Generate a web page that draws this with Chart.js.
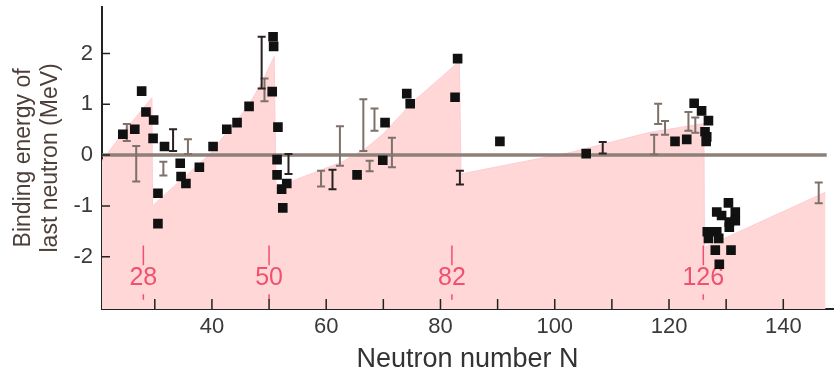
<!DOCTYPE html>
<html>
<head>
<meta charset="utf-8">
<script src="https://cdn.jsdelivr.net/npm/chart.js@4/dist/chart.umd.min.js"></script>
<style>
  html, body { margin: 0; padding: 0; background: #fff; }
  #wrap { width: 840px; height: 383px; }
</style>
</head>
<body>
<div id="wrap"><canvas id="chart"></canvas></div>
<script>
// axis ranges and ticks
const xMin = 20.76, xMax = 148.7;
const yMin = -3.03, yMax = 2.92;
const xTicks = [30, 40, 50, 60, 70, 80, 90, 100, 110, 120, 130, 140];
const xLabels = [40, 60, 80, 100, 120, 140];
const yTicks = [-2, -1, 0, 1, 2];

// sawtooth shell-model band (upper edge)
const shellN = [20.76, 24.5, 29.5, 29.6, 34, 39.5, 42.6, 44.4, 46.5, 48.7, 50.9, 51.2, 54.3, 58, 62.7, 66.8, 70, 75.3, 80, 83.3, 83.6, 102.7, 116.7, 126.1, 126.2, 128.9, 147.4];
const shellE = [-0.11, 0.45, 1.13, -1.0, -0.55, 0.0, 0.45, 0.68, 1.0, 1.42, 1.94, -0.65, -0.5, -0.34, -0.14, 0.12, 0.42, 1.06, 1.52, 1.85, -0.37, 0.05, 0.45, 0.62, -1.82, -1.68, -0.73];

// zero reference line
const zeroN = [20.76, 147.6];
const zeroE = [0, 0];

// measured points (squares)
const pointN = [24.4, 26.5, 27.7, 28.45, 29.8, 29.7, 31.7, 30.55, 30.55, 34.45, 34.6, 35.45, 37.8, 40.2, 42.6, 44.4, 46.5,
  50.7, 50.8, 50.55, 51.55, 51.4, 51.4, 52.2, 53.1, 52.4, 65.4, 69.9, 70.3, 74.1, 74.7, 82.55, 83.0, 90.4, 105.5,
  121.05, 123.1, 124.4, 125.7, 126.9, 126.3, 126.6, 126.5,
  130.4, 128.35, 131.6, 129.2, 130.55, 131.6, 130.55, 126.7, 128.35, 126.9, 128.7, 128.1, 130.85, 128.8];
const pointE = [0.41, 0.51, 1.26, 0.85, 0.69, 0.33, 0.17, -0.75, -1.35, -0.16, -0.42, -0.56, -0.24, 0.17, 0.51, 0.64, 0.96,
  2.33, 2.14, 1.25, 0.55, -0.09, -0.39, -0.67, -0.56, -1.04, -0.39, -0.10, 0.64, 1.21, 1.01, 1.14, 1.90, 0.27, 0.03,
  0.27, 0.31, 1.02, 0.87, 0.68, 0.46, 0.36, 0.27,
  -0.94, -1.12, -1.12, -1.19, -1.32, -1.29, -1.42, -1.51, -1.51, -1.64, -1.64, -1.87, -1.87, -2.15];

// error-bar estimates (dark)
const errDarkN = [33.2, 48.7, 53.4, 61.1, 83.4, 108.4];
const errDarkLo = [0.08, 1.31, -0.37, -0.67, -0.58, 0.03];
const errDarkHi = [0.51, 2.33, 0.02, -0.29, -0.31, 0.26];

// error-bar estimates (grey)
const errGreyN = [25.1, 26.75, 31.5, 35.8, 49.2, 59.1, 62.4, 66.5, 68.45, 67.6, 71.5, 117.4, 118.1, 119.3, 123.4, 124.6, 146.2];
const errGreyLo = [0.28, -0.52, -0.4, 0.02, 1.06, -0.62, -0.21, 0.08, 0.48, -0.32, -0.24, 0.01, 0.61, 0.40, 0.48, 0.44, -0.95];
const errGreyHi = [0.61, 0.18, -0.13, 0.31, 1.51, -0.31, 0.57, 1.10, 0.92, -0.11, 0.34, 0.40, 1.01, 0.67, 0.85, 0.74, -0.54];

// magic numbers
const magicN = [28, 50, 82, 126];
const magicLabels = ['28', '50', '82', '126'];

const FONT = "'Liberation Sans', Arial, Helvetica, sans-serif";

const toXY = (xs, ys) => xs.map((x, i) => ({ x: x, y: ys[i] }));

function drawErrors(ctx, xs, ys, n, lo, hi, color) {
    ctx.strokeStyle = color;
    ctx.lineWidth = 2;
    for (let i = 0; i < n.length; i++) {
        const px = xs.getPixelForValue(n[i]);
        const y1 = ys.getPixelForValue(lo[i]);
        const y2 = ys.getPixelForValue(hi[i]);
        ctx.beginPath();
        ctx.moveTo(px, y1); ctx.lineTo(px, y2);
        ctx.moveTo(px - 4, y1); ctx.lineTo(px + 4, y1);
        ctx.moveTo(px - 4, y2); ctx.lineTo(px + 4, y2);
        ctx.stroke();
    }
}

const overlay = {
    id: 'overlay',
    afterDatasetDraw(chart, args) {
        const ctx = chart.ctx;
        const xs = chart.scales.x, ys = chart.scales.y;
        ctx.save();
        if (args.index === 2) {
            // magic number markers
            ctx.strokeStyle = '#f2506f';
            ctx.fillStyle = '#f2506f';
            ctx.lineWidth = 1.5;
            ctx.font = '25px ' + FONT;
            ctx.textAlign = 'center';
            ctx.textBaseline = 'middle';
            magicN.forEach((n, i) => {
                const px = xs.getPixelForValue(n);
                ctx.beginPath();
                ctx.moveTo(px, ys.getPixelForValue(-1.78));
                ctx.lineTo(px, ys.getPixelForValue(-2.17));
                ctx.moveTo(px, ys.getPixelForValue(-2.74));
                ctx.lineTo(px, ys.getPixelForValue(-2.85));
                ctx.stroke();
                ctx.fillText(magicLabels[i], px, ys.getPixelForValue(-2.43));
            });
        }
        if (args.index === 1) {
            drawErrors(ctx, xs, ys, errGreyN, errGreyLo, errGreyHi, '#7e706a');
            drawErrors(ctx, xs, ys, errDarkN, errDarkLo, errDarkHi, '#2a2222');
        }
        ctx.restore();
    },
    afterDatasetsDraw(chart) {
        // inward tick marks
        const ctx = chart.ctx;
        const xs = chart.scales.x, ys = chart.scales.y;
        const area = chart.chartArea;
        ctx.save();
        ctx.strokeStyle = '#222';
        ctx.lineWidth = 1.5;
        ctx.beginPath();
        xTicks.forEach(v => {
            const px = xs.getPixelForValue(v);
            ctx.moveTo(px, area.bottom);
            ctx.lineTo(px, area.bottom - 10);
        });
        yTicks.forEach(v => {
            const py = ys.getPixelForValue(v);
            ctx.moveTo(area.left, py);
            ctx.lineTo(area.left + 8, py);
        });
        ctx.stroke();
        ctx.restore();
    }
};

new Chart(document.getElementById('chart'), {
    type: 'scatter',
    data: {
        datasets: [
            {
                label: 'measured',
                data: toXY(pointN, pointE),
                pointStyle: 'rect',
                pointRadius: 6.8,
                backgroundColor: '#111',
                borderWidth: 0,
                order: 0
            },
            {
                label: 'zero',
                data: toXY(zeroN, zeroE),
                showLine: true,
                borderColor: '#8d8078',
                borderWidth: 3.5,
                pointRadius: 0,
                order: 1
            },
            {
                label: 'shell',
                data: toXY(shellN, shellE),
                showLine: true,
                fill: 'start',
                backgroundColor: '#ffd7d7',
                borderColor: '#ffcbd4',
                borderWidth: 1,
                tension: 0,
                pointRadius: 0,
                order: 2
            }
        ]
    },
    options: {
        responsive: true,
        maintainAspectRatio: false,
        animation: false,
        layout: { padding: { top: 5, right: 7, left: 0, bottom: 0 } },
        plugins: {
            legend: { display: false },
            tooltip: { enabled: false }
        },
        scales: {
            x: {
                type: 'linear',
                min: xMin,
                max: xMax,
                afterBuildTicks: scale => { scale.ticks = xTicks.map(v => ({ value: v })); },
                afterFit: scale => {
                    scale.height = 74;
                    scale.paddingLeft = 0;
                    scale.paddingRight = 0;
                },
                grid: { drawOnChartArea: false, drawTicks: false },
                border: { display: true, color: '#222', width: 2 },
                ticks: {
                    autoSkip: false,
                    maxRotation: 0,
                    padding: 5,
                    color: '#3a3a3a',
                    font: { family: FONT, size: 22 },
                    callback: v => xLabels.includes(v) ? String(v) : ''
                },
                title: {
                    display: true,
                    text: 'Neutron number N',
                    color: '#333',
                    font: { family: FONT, size: 27 },
                    padding: { top: 0, bottom: 7 }
                }
            },
            y: {
                type: 'linear',
                min: yMin,
                max: yMax,
                afterBuildTicks: scale => { scale.ticks = yTicks.map(v => ({ value: v })); },
                afterFit: scale => {
                    scale.width = 102;
                    scale.paddingTop = 0;
                    scale.paddingBottom = 0;
                },
                grid: { drawOnChartArea: false, drawTicks: false },
                border: { display: true, color: '#222', width: 2 },
                ticks: {
                    padding: 9,
                    color: '#3a3a3a',
                    font: { family: FONT, size: 22 },
                    callback: v => String(v)
                },
                title: {
                    display: true,
                    text: ['Binding energy of', 'last neutron (MeV)'],
                    color: '#4d3f3a',
                    font: { family: FONT, size: 23, lineHeight: 1.17 },
                    padding: { top: 10, bottom: 0 }
                }
            }
        }
    },
    plugins: [overlay]
});
</script>
</body>
</html>
